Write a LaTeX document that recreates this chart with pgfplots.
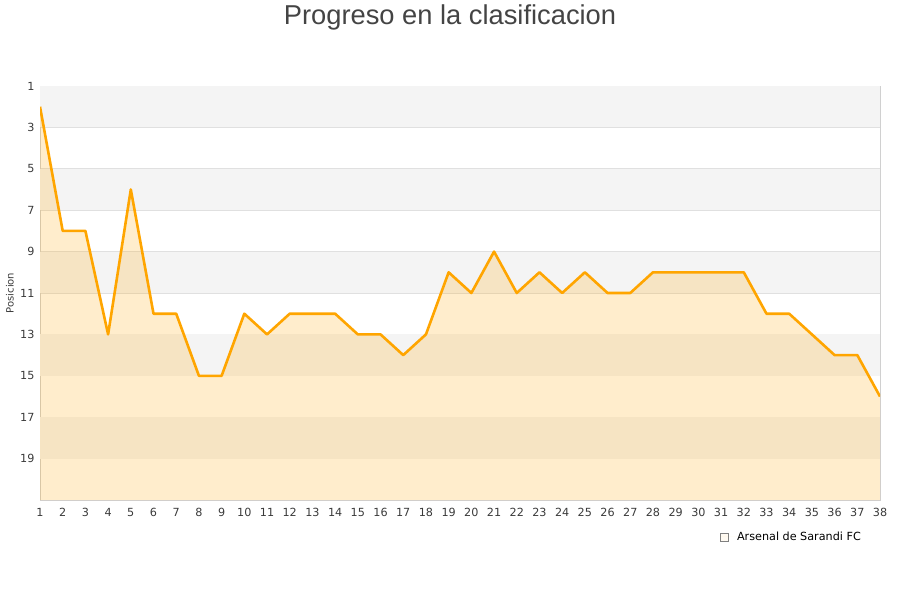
\documentclass[border=0pt]{standalone}
\usepackage{fontspec}
\setmainfont{DejaVu Sans}
\newfontfamily\titlefont{Liberation Sans}
\usepackage{pgfplots}
\pgfplotsset{compat=1.18}
\definecolor{lineorange}{HTML}{FFA500}
\definecolor{bandgray}{HTML}{F4F4F4}
\definecolor{gridgray}{HTML}{E0E0E0}
\definecolor{axisgray}{HTML}{D0D0D0}
\definecolor{textgray}{HTML}{444444}
\definecolor{ticktext}{HTML}{3A3A3A}
\begin{document}
\begin{tikzpicture}[x=1pt,y=1pt]
\useasboundingbox (0,0) rectangle (900,600);
\node[font=\titlefont\fontsize{27.3}{29}\selectfont, text=textgray] at (450,583) {Progreso en la clasificacion};
\node[rotate=90, font=\fontsize{10}{12}\selectfont, text=ticktext] at (10,307) {Posicion};
\begin{axis}[
  at={(40pt,100pt)}, anchor=south west,
  scale only axis, width=840pt, height=414pt,
  xmin=1, xmax=38, ymin=1, ymax=21,
  y dir=reverse,
  xtick={1,...,38},
  ytick={1,3,...,19},
  ymajorgrids,
  major grid style={gridgray, line width=0.9pt},
  axis line style={axisgray, line width=0.8pt},
  major tick length=0pt,
  tick label style={font=\fontsize{11.2}{13}\selectfont, text=ticktext},
  /pgf/number format/assume math mode=true,
  xticklabel style={yshift=-5pt},
  yticklabel style={xshift=-2pt},
  legend style={at={(0.809,-0.089)}, anchor=west, draw=none, fill=none,
    font=\fontsize{11.2}{13}\selectfont, inner sep=0pt,
    nodes={inner sep=0pt, text=black}},
  legend cell align=left,
  legend image code/.code={\draw[draw=gray, fill=lineorange!25, line width=0.6pt] (0pt,-4pt) rectangle (8pt,4pt);
     \path (0pt,0pt) -- (17pt,0pt);},
]
\fill[bandgray] (axis cs:1,1) rectangle (axis cs:38,3);
\fill[bandgray] (axis cs:1,5) rectangle (axis cs:38,7);
\fill[bandgray] (axis cs:1,9) rectangle (axis cs:38,11);
\fill[bandgray] (axis cs:1,13) rectangle (axis cs:38,15);
\fill[bandgray] (axis cs:1,17) rectangle (axis cs:38,19);
\addplot[draw=none, fill=lineorange, fill opacity=0.2]
  coordinates {
  (1,2)(2,8)(3,8)(4,13)(5,6)(6,12)(7,12)(8,15)(9,15)(10,12)
  (11,13)(12,12)(13,12)(14,12)(15,13)(16,13)(17,14)(18,13)(19,10)(20,11)
  (21,9)(22,11)(23,10)(24,11)(25,10)(26,11)(27,11)(28,10)(29,10)(30,10)
  (31,10)(32,10)(33,12)(34,12)(35,13)(36,14)(37,14)(38,16)
  (38,21)(1,21)} -- cycle;
\addlegendentry{Arsenal de Sarandi FC}
\addplot[lineorange, line width=2.6pt, mark=none, line join=round, forget plot] coordinates {
  (1,2)(2,8)(3,8)(4,13)(5,6)(6,12)(7,12)(8,15)(9,15)(10,12)
  (11,13)(12,12)(13,12)(14,12)(15,13)(16,13)(17,14)(18,13)(19,10)(20,11)
  (21,9)(22,11)(23,10)(24,11)(25,10)(26,11)(27,11)(28,10)(29,10)(30,10)
  (31,10)(32,10)(33,12)(34,12)(35,13)(36,14)(37,14)(38,16)};
\end{axis}
\end{tikzpicture}
\end{document}
